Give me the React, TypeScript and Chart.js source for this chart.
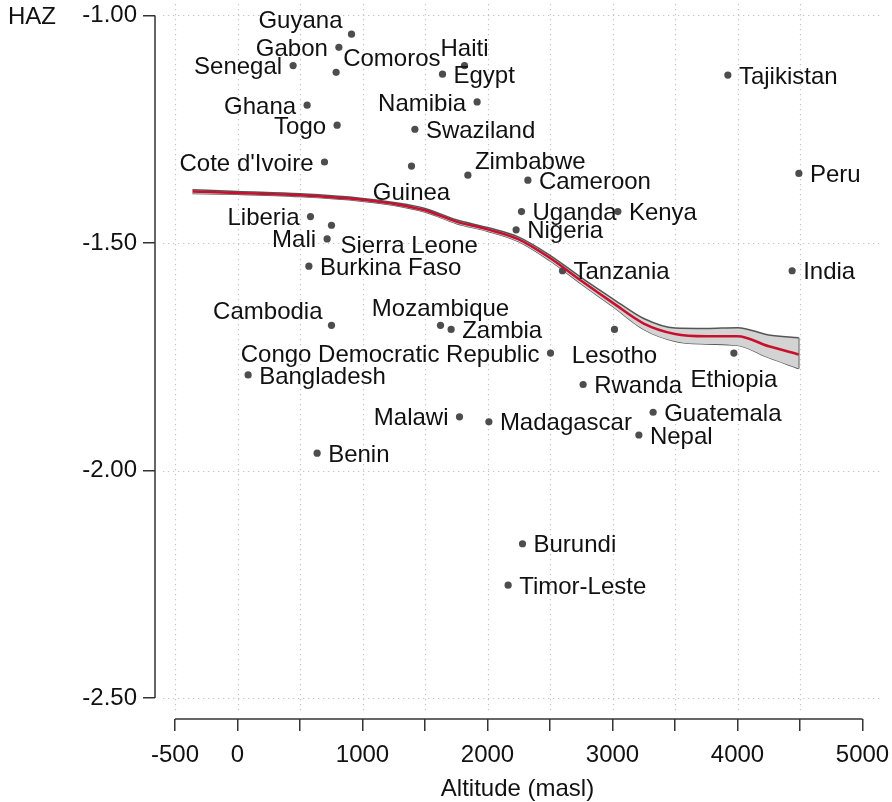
import { useEffect, useRef } from 'react';
import { Chart, registerables } from 'chart.js';

Chart.register(...registerables);

// Country-level mean height-for-age z-score against mean altitude
const COUNTRIES = [
  'Guyana', 'Gabon', 'Senegal', 'Comoros', 'Haiti', 'Egypt', 'Ghana', 'Togo',
  'Namibia', 'Swaziland', "Cote d'Ivoire", 'Guinea', 'Zimbabwe', 'Cameroon',
  'Uganda', 'Kenya', 'Nigeria', 'Liberia', 'Sierra Leone', 'Mali', 'Burkina Faso',
  'Tanzania', 'India', 'Peru', 'Tajikistan', 'Cambodia', 'Mozambique', 'Zambia',
  'Lesotho', 'Congo Democratic Republic', 'Ethiopia', 'Bangladesh', 'Rwanda',
  'Malawi', 'Madagascar', 'Guatemala', 'Nepal', 'Benin', 'Burundi', 'Timor-Leste',
];
const ALTITUDE = [
  912, 811, 445, 789, 1816, 1640, 557, 797,
  1917, 1419, 696, 1392, 1843, 2323,
  2272, 3043, 2229, 584, 752, 717, 571,
  2600, 4437, 4491, 3923, 752, 1624, 1709,
  3016, 2504, 3971, 85, 2765,
  1776, 2011, 3325, 3211, 637, 2280, 2165,
];
const HAZ = [
  -1.041, -1.07, -1.11, -1.125, -1.11, -1.129, -1.197, -1.241,
  -1.19, -1.25, -1.322, -1.331, -1.351, -1.362,
  -1.431, -1.431, -1.471, -1.442, -1.461, -1.491, -1.551,
  -1.561, -1.561, -1.347, -1.131, -1.681, -1.681, -1.69,
  -1.69, -1.742, -1.742, -1.79, -1.811,
  -1.882, -1.893, -1.872, -1.922, -1.962, -2.161, -2.252,
];
// Marker-label clock positions (3 = right, 9 = left, 12 = above, 6 = below ...)
const LABEL_CLOCK = [
  11, 9, 9, 1, 12, 3, 9, 9,
  9, 3, 9, 6, 1, 3,
  3, 3, 3, 9, 4, 9, 3,
  3, 3, 3, 3, 11, 12, 3,
  6, 9, 6, 3, 3,
  9, 3, 3, 3, 3, 3, 3,
];

// Local polynomial fit with its confidence band
const FIT_ALT = [-360, 0, 500, 1000, 1250, 1500, 1750, 2000, 2250, 2500, 2750, 3000, 3250, 3500, 3750, 4000, 4250, 4490];
const FIT_HAZ = [-1.387, -1.39, -1.395, -1.405, -1.414, -1.428, -1.453, -1.47, -1.492, -1.533, -1.583, -1.631, -1.677, -1.7, -1.705, -1.705, -1.727, -1.745];
const CI_UPPER = [-1.383, -1.387, -1.392, -1.402, -1.411, -1.424, -1.449, -1.466, -1.487, -1.527, -1.576, -1.622, -1.666, -1.687, -1.688, -1.686, -1.702, -1.708];
const CI_LOWER = [-1.391, -1.393, -1.398, -1.408, -1.417, -1.432, -1.457, -1.474, -1.497, -1.539, -1.59, -1.639, -1.69, -1.716, -1.722, -1.725, -1.752, -1.776];

const X_TICKS = [-500, 0, 500, 1000, 1500, 2000, 2500, 3000, 3500, 4000, 4500, 5000];
const X_LABELED = [-500, 0, 1000, 2000, 3000, 4000, 5000];
const X_GRID = [-500, 0, 500, 1000, 1500, 2000, 2500, 3000, 3500, 4000, 4500];
const Y_TICKS = [-2.5, -2, -1.5, -1];
const X_TITLE = 'Altitude (masl)';
const Y_TITLE = 'HAZ';

const FONT_FAMILY = '"Liberation Sans", Arial, Helvetica, sans-serif';
const FONT_SIZE = 24;
const TEXT_COLOR = '#111111';
const AXIS_COLOR = '#333333';

const CLOCK_OFFSETS: Record<number, { dx: number; dy: number; align: CanvasTextAlign }> = {
  3: { dx: 11, dy: 0, align: 'left' },
  9: { dx: -11, dy: 0, align: 'right' },
  12: { dx: 0, dy: -18, align: 'center' },
  6: { dx: 0, dy: 25, align: 'center' },
  11: { dx: -9, dy: -15, align: 'right' },
  1: { dx: 7, dy: -15, align: 'left' },
  4: { dx: 9, dy: 19, align: 'left' },
};

const pts = (xs: number[], ys: number[]) => xs.map((x, i) => ({ x, y: ys[i] }));

const decorations = {
  id: 'decorations',
  beforeDatasetsDraw(chart: any) {
    const { ctx, chartArea, scales } = chart;
    const x = scales.x;
    const y = scales.y;
    ctx.save();
    ctx.setLineDash([1.3, 3.7]);
    ctx.strokeStyle = '#c4c4c4';
    ctx.lineWidth = 1.2;
    const left = chartArea.left + 8;
    const bottom = chartArea.bottom - 7;
    for (const v of Y_TICKS) {
      const py = Math.round(y.getPixelForValue(v)) + 0.5;
      ctx.beginPath();
      ctx.moveTo(left, py);
      ctx.lineTo(chartArea.right, py);
      ctx.stroke();
    }
    for (const v of X_GRID) {
      const px = Math.round(x.getPixelForValue(v)) + 0.5;
      ctx.beginPath();
      ctx.moveTo(px, chartArea.top);
      ctx.lineTo(px, bottom);
      ctx.stroke();
    }
    ctx.restore();
  },
  afterDatasetsDraw(chart: any) {
    const { ctx, chartArea, scales } = chart;
    const x = scales.x;
    const y = scales.y;
    ctx.save();
    // axis lines spanning the first to the last tick
    ctx.strokeStyle = AXIS_COLOR;
    ctx.lineWidth = 1.5;
    ctx.beginPath();
    ctx.moveTo(chartArea.left, y.getPixelForValue(Y_TICKS[Y_TICKS.length - 1]));
    ctx.lineTo(chartArea.left, y.getPixelForValue(Y_TICKS[0]));
    ctx.stroke();
    ctx.beginPath();
    ctx.moveTo(x.getPixelForValue(X_TICKS[0]), chartArea.bottom);
    ctx.lineTo(x.getPixelForValue(X_TICKS[X_TICKS.length - 1]), chartArea.bottom);
    ctx.stroke();

    ctx.font = `${FONT_SIZE}px ${FONT_FAMILY}`;
    ctx.fillStyle = TEXT_COLOR;
    ctx.textBaseline = 'alphabetic';
    const capMid = FONT_SIZE * 0.358;

    // vertical axis title, level with the top tick
    ctx.textAlign = 'left';
    ctx.fillText(Y_TITLE, 8, y.getPixelForValue(Y_TICKS[Y_TICKS.length - 1]) + capMid);

    // country labels beside their markers
    const meta = chart.getDatasetMeta(1);
    meta.data.forEach((el: any, i: number) => {
      const o = CLOCK_OFFSETS[LABEL_CLOCK[i]] || CLOCK_OFFSETS[3];
      ctx.textAlign = o.align;
      ctx.fillText(COUNTRIES[i], el.x + o.dx, el.y + o.dy + capMid);
    });
    ctx.restore();
  },
};

export default function App() {
  const canvasRef = useRef<HTMLCanvasElement | null>(null);

  useEffect(() => {
    const canvas = canvasRef.current;
    if (!canvas) return;
    const font = { family: FONT_FAMILY, size: FONT_SIZE };
    const last = FIT_ALT.length - 1;

    const chart = new Chart(canvas, {
      type: 'scatter',
      data: {
        datasets: [
          {
            label: 'Fitted HAZ',
            data: pts(FIT_ALT, FIT_HAZ),
            showLine: true,
            borderColor: '#c8102e',
            borderWidth: 2.5,
            pointRadius: 0,
            cubicInterpolationMode: 'monotone',
            fill: false,
            order: 0,
          },
          {
            label: 'Countries',
            data: pts(ALTITUDE, HAZ),
            showLine: false,
            pointRadius: 3.6,
            pointBackgroundColor: '#4d4d4d',
            pointBorderWidth: 0,
            order: 1,
          },
          {
            label: 'CI upper',
            data: pts(FIT_ALT, CI_UPPER),
            showLine: true,
            borderColor: '#555555',
            borderWidth: 1.5,
            backgroundColor: '#d3d3d3',
            pointRadius: 0,
            cubicInterpolationMode: 'monotone',
            fill: '+1',
            order: 2,
          },
          {
            label: 'CI lower',
            data: pts(FIT_ALT, CI_LOWER),
            showLine: true,
            borderColor: '#555555',
            borderWidth: 1.5,
            pointRadius: 0,
            cubicInterpolationMode: 'monotone',
            fill: false,
            order: 3,
          },
          {
            label: 'CI end',
            data: [
              { x: FIT_ALT[last], y: CI_UPPER[last] },
              { x: FIT_ALT[last], y: CI_LOWER[last] },
            ],
            showLine: true,
            borderColor: '#555555',
            borderWidth: 1.5,
            pointRadius: 0,
            fill: false,
            order: 2,
          },
        ],
      },
      options: {
        responsive: false,
        animation: false,
        layout: { padding: { top: 3, right: 12, left: 0, bottom: 0 } },
        plugins: {
          legend: { display: false },
          tooltip: { enabled: false },
        },
        scales: {
          x: {
            type: 'linear',
            min: -660,
            max: 5140,
            afterBuildTicks: (s: any) => {
              s.ticks = X_TICKS.map((value) => ({ value }));
            },
            afterFit: (s: any) => {
              s.height = 83;
              s.paddingLeft = 0;
              s.paddingRight = 0;
            },
            border: { display: false },
            grid: {
              drawOnChartArea: false,
              drawTicks: true,
              tickLength: 12,
              color: AXIS_COLOR,
              lineWidth: 1.5,
            },
            ticks: {
              autoSkip: false,
              maxRotation: 0,
              padding: 10,
              color: TEXT_COLOR,
              font,
              callback: (v: any) => (X_LABELED.includes(Number(v)) ? String(v) : ''),
            },
            title: {
              display: true,
              text: X_TITLE,
              color: TEXT_COLOR,
              font,
              padding: { top: 8, bottom: -2 },
            },
          },
          y: {
            type: 'linear',
            min: -2.54609,
            max: -0.97476,
            afterBuildTicks: (s: any) => {
              s.ticks = Y_TICKS.map((value) => ({ value }));
            },
            afterFit: (s: any) => {
              s.width = 155;
              s.paddingTop = 0;
              s.paddingBottom = 0;
            },
            border: { display: false },
            grid: {
              drawOnChartArea: false,
              drawTicks: true,
              tickLength: 12,
              color: AXIS_COLOR,
              lineWidth: 1.5,
            },
            ticks: {
              autoSkip: false,
              padding: 6,
              color: TEXT_COLOR,
              font,
              callback: (v: any) => Number(v).toFixed(2),
            },
          },
        },
      },
      plugins: [decorations],
    } as any);

    return () => chart.destroy();
  }, []);

  return (
    <div style={{ position: 'absolute', left: 0, top: 0, width: 892, height: 802, background: '#ffffff' }}>
      <canvas ref={canvasRef} width={892} height={802} style={{ display: 'block' }} />
    </div>
  );
}
